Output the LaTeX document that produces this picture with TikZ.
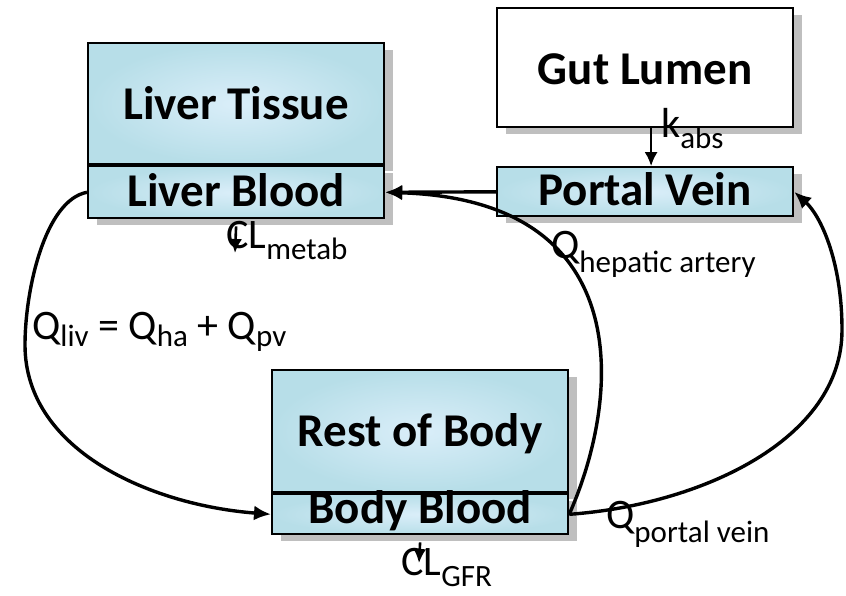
\documentclass[tikz,border=0pt]{standalone}
\usepackage{fontspec}
\setmainfont{Carlito}
\usetikzlibrary{positioning,shadows,arrows.meta}
\definecolor{boxOuter}{RGB}{183,222,232}
\definecolor{boxInner}{RGB}{218,238,249}
\definecolor{shadowGray}{RGB}{191,191,191}
\newcommand{\boxfont}{\fontsize{47}{50}\selectfont\bfseries}
\newcommand{\labelfont}{\fontsize{42}{44}\selectfont}
\newcommand{\lowsub}[2][11pt]{\raisebox{-#1}{\fontsize{31}{33}\selectfont #2}}

\begin{document}
\begin{tikzpicture}[
    x=1pt, y=-1pt,
    box/.style={
        draw=black, line width=2.2pt, fill=white, inner sep=0pt, align=center,
        font=\boxfont, minimum width=296pt,
        drop shadow={shadow xshift=9pt, shadow yshift=-7pt, fill=shadowGray, opacity=1}
    },
    bluebox/.style={box, shading=radial, inner color=boxInner, outer color=boxOuter},
    arrow/.style={-{Latex[length=17pt,width=15pt]}, line width=3.4pt},
    thinarrow/.style={-{Latex[length=14pt,width=13pt]}, line width=2.6pt},
    flow/.style={font=\labelfont, inner sep=0pt, anchor=base west}
]
    \useasboundingbox (0,0) rectangle (846,595);

    % compartments
    \node[bluebox, text height=76pt, text depth=45pt, anchor=north west] (livertissue) at (87,42) {Liver Tissue};
    \node[bluebox, text height=40pt, text depth=12pt, below=0pt of livertissue] (liverblood) {Liver Blood};
    \node[box, text height=76pt, text depth=43pt, anchor=north west] (gutlumen) at (496,7) {Gut Lumen};
    \node[bluebox, text height=38pt, text depth=11pt, below=38pt of gutlumen] (portalvein) {Portal Vein};
    \node[bluebox, text height=76pt, text depth=46pt, anchor=north west] (restbody) at (271,369) {Rest of Body};
    \node[bluebox, text height=29pt, text depth=11pt, below=0pt of restbody] (bodyblood) {Body Blood};

    % flows
    \draw[thinarrow] ([xshift=6pt]gutlumen.south) -- ([xshift=6pt]portalvein.north);
    \draw[arrow] (portalvein.west) -- (liverblood.east);
    \draw[arrow] (liverblood.west) .. controls (45,200) and (25,290) .. (25,345)
        .. controls (25,450) and (150,505) .. (bodyblood.west);
    \draw[arrow] (bodyblood.east) .. controls (620,400) and (640,200) .. (liverblood.east);
    \draw[arrow] (bodyblood.east) .. controls (700,505) and (842,440) .. (842,330)
        .. controls (842,260) and (820,215) .. (portalvein.east);

    % clearances
    \coordinate (metabend) at (235,253);
    \coordinate (gfrend) at (419,563);
    \draw[thinarrow] ([yshift=-7pt]liverblood.south) -- (metabend);
    \draw[thinarrow] ([yshift=-7pt]bodyblood.south) -- (gfrend);

    % labels
    \node[flow] (qliv) at (32,339) {Q\lowsub[7pt]{liv} = Q\lowsub[7pt]{ha} + Q\lowsub[7pt]{pv}};
    \node[flow] (qha) at (551,258) {Q\lowsub[14pt]{hepatic artery}};
    \node[flow] (qpv) at (606,528) {Q\lowsub[14pt]{portal vein}};
    \node[flow] (kabs) at (661,137) {k\lowsub{abs}};
    \node[flow] (clmetab) at (226,248) {CL\lowsub{metab}};
    \node[flow] (clgfr) at (401,575) {CL\lowsub[11pt]{GFR}};
\end{tikzpicture}
\end{document}
